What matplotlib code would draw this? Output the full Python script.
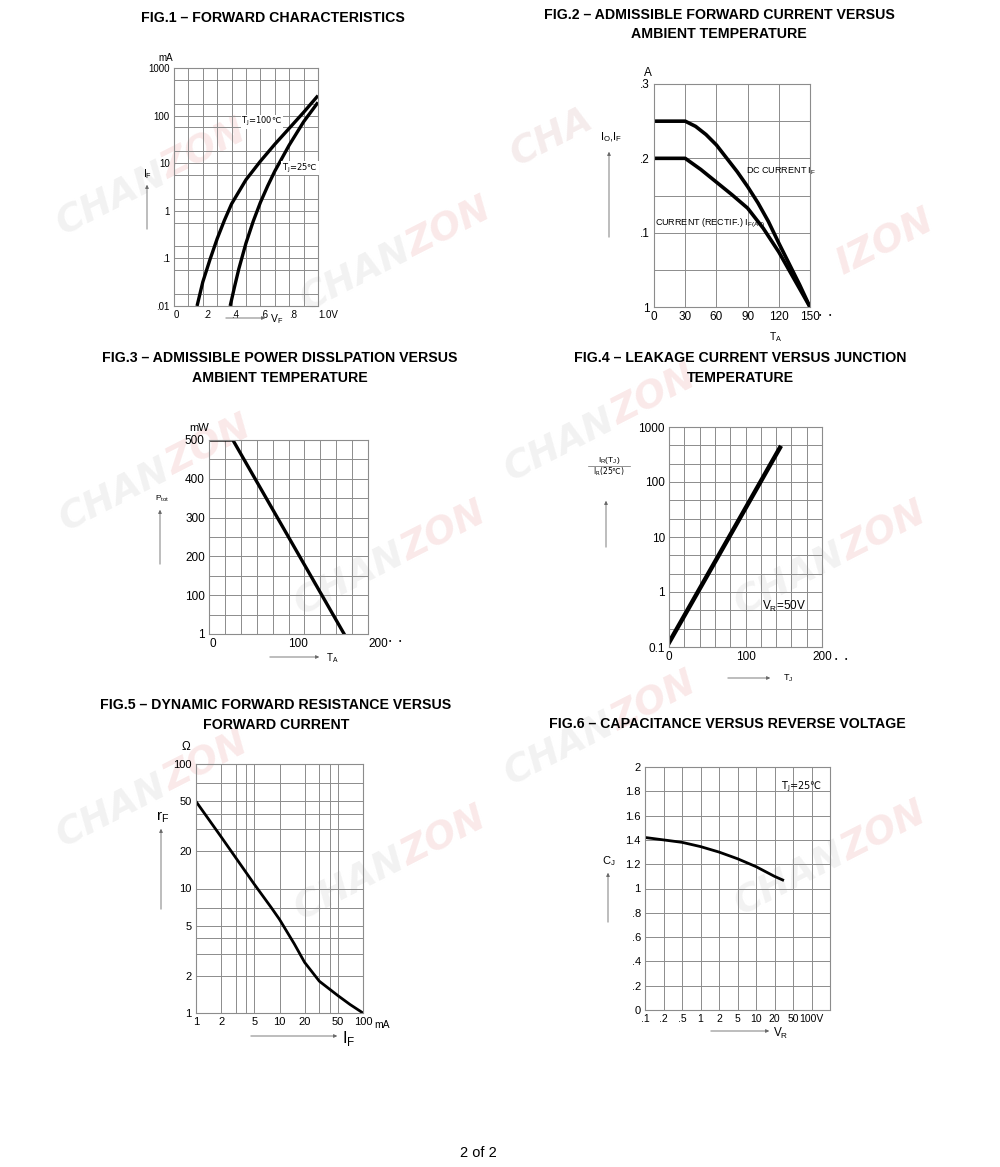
import numpy as np
import matplotlib
matplotlib.use('Agg')
import matplotlib.pyplot as plt
from matplotlib.ticker import FixedLocator, NullFormatter, FixedFormatter
from matplotlib.patches import FancyArrowPatch

plt.rcParams['font.family'] = ['Liberation Sans', 'DejaVu Sans']

W, H = 1000, 1167
GRID = '#8c8c8c'
TITLE_FONT = ['Liberation Sans Narrow', 'Liberation Sans', 'DejaVu Sans']

# ---- data ----
# fig.1 forward characteristics (V, mA)
vf_100 = [0.16, 0.2, 0.25, 0.3, 0.35, 0.4, 0.5, 0.6, 0.7, 0.8, 0.9, 1.0]
if_100 = [0.01, 0.032, 0.095, 0.26, 0.63, 1.4, 4.5, 11, 25, 54, 117, 263]
vf_25 = [0.39, 0.42, 0.45, 0.5, 0.55, 0.6, 0.65, 0.7, 0.8, 0.9, 1.0]
if_25 = [0.01, 0.025, 0.06, 0.21, 0.6, 1.5, 3.3, 6.8, 24, 74, 190]

# fig.2 admissible forward current (degC, A)
ta_dc = [0, 30, 40, 50, 60, 70, 80, 90, 100, 110, 120, 130, 140, 150]
i_dc = [0.25, 0.25, 0.243, 0.232, 0.218, 0.2, 0.182, 0.162, 0.14, 0.115, 0.086, 0.058, 0.03, 0.0]
ta_rect = [0, 30, 45, 60, 75, 90, 105, 120, 135, 150]
i_rect = [0.2, 0.2, 0.185, 0.168, 0.151, 0.133, 0.106, 0.074, 0.037, 0.0]

# fig.3 power dissipation (degC, mW)
ta_p = [0, 30, 170]
p_tot = [500, 500, 0]

# fig.4 leakage current ratio (degC, ratio)
tj_ir = [0, 145]
ir_ratio = [0.12, 420]

# fig.5 dynamic forward resistance (mA, ohm)
if_rf = [1, 2, 5, 8, 10, 15, 20, 30, 50, 70, 100]
rf = [50, 26, 10.8, 7.0, 5.65, 3.6, 2.55, 1.8, 1.38, 1.17, 1.0]

# fig.6 capacitance (V, pF)
vr_labels = ['.1', '.2', '.5', '1', '2', '5', '10', '20', '50', '100V']
vr_steps = [0.1, 0.2, 0.5, 1, 2, 5, 10, 20, 50, 100]
vr_cj = [0.1, 0.2, 0.5, 1, 2, 5, 10, 20, 30]
cj = [1.42, 1.40, 1.38, 1.345, 1.30, 1.245, 1.18, 1.10, 1.07]

fig = plt.figure(figsize=(W / 100, H / 100), dpi=100)


def axes_px(l, t, r, b):
    ax = fig.add_axes([l / W, 1 - b / H, (r - l) / W, (b - t) / H])
    ax.set_facecolor('none')
    return ax


def ftext(x, y, s, **kw):
    kw.setdefault('ha', 'center')
    kw.setdefault('va', 'center')
    return fig.text(x / W, 1 - y / H, s, **kw)


def arrow(x0, y0, x1, y1):
    fig.add_artist(FancyArrowPatch((x0 / W, 1 - y0 / H), (x1 / W, 1 - y1 / H),
                                   transform=fig.transFigure, arrowstyle='-|>',
                                   mutation_scale=5, lw=0.6, color='#666666'))


def style(ax, size=8.5):
    for s in ax.spines.values():
        s.set_color(GRID)
        s.set_linewidth(0.8)
    ax.tick_params(which='both', length=0, labelsize=size, pad=3)
    ax.grid(True, which='both', color=GRID, lw=0.7)
    ax.set_axisbelow(True)


def title(x, y, s):
    ftext(x, y, s, fontsize=10.2, fontweight='bold', family=TITLE_FONT)


# ---- watermarks ----
GRAY_WM, PINK_WM = '#f2f2f2', '#fae9e9'
marks = [((112, 200), 'CHAN', GRAY_WM), ((205, 150), 'ZON', PINK_WM),
         ((356, 276), 'CHAN', GRAY_WM), ((450, 228), 'ZON', PINK_WM),
         ((552, 138), 'CHA', '#f5ecec'), ((885, 243), 'IZON', PINK_WM),
         ((115, 496), 'CHAN', GRAY_WM), ((210, 446), 'ZON', PINK_WM),
         ((350, 580), 'CHAN', GRAY_WM), ((445, 532), 'ZON', PINK_WM),
         ((560, 446), 'CHAN', GRAY_WM), ((655, 396), 'ZON', PINK_WM),
         ((790, 580), 'CHAN', GRAY_WM), ((885, 532), 'ZON', PINK_WM),
         ((112, 812), 'CHAN', GRAY_WM), ((207, 762), 'ZON', PINK_WM),
         ((350, 885), 'CHAN', GRAY_WM), ((445, 837), 'ZON', PINK_WM),
         ((560, 750), 'CHAN', GRAY_WM), ((655, 702), 'ZON', PINK_WM),
         ((790, 880), 'CHAN', GRAY_WM), ((885, 832), 'ZON', PINK_WM)]
for (x, y), s, c in marks:
    ftext(x, y, s, fontsize=27, fontweight='bold', style='italic', color=c,
          rotation=27, family='DejaVu Sans', zorder=-5)

# ---- FIG.1 ----
title(273, 18, 'FIG.1 – FORWARD CHARACTERISTICS')
ax1 = axes_px(174, 68, 318, 306)
ax1.set_yscale('log')
ax1.plot(vf_100, if_100, color='black', lw=2.4, solid_capstyle='butt')
ax1.plot(vf_25, if_25, color='black', lw=2.4, solid_capstyle='butt')
ax1.set_xlim(0, 1.0)
ax1.set_ylim(0.01, 1000)
ax1.xaxis.set_major_locator(FixedLocator([0, 0.2, 0.4, 0.6, 0.8, 1.0]))
ax1.xaxis.set_major_formatter(FixedFormatter(['0', '.2', '.4', '.6', '.8', '1.0V']))
ax1.xaxis.set_minor_locator(FixedLocator([0.1, 0.3, 0.5, 0.7, 0.9]))
ax1.yaxis.set_major_locator(FixedLocator([0.01, 0.1, 1, 10, 100, 1000]))
ax1.yaxis.set_major_formatter(FixedFormatter(['.01', '.1', '1', '10', '100', '1000']))
minor1 = [10 ** (k + f) for k in range(-2, 3) for f in (0.25, 0.75)]
ax1.yaxis.set_minor_locator(FixedLocator(minor1))
ax1.yaxis.set_minor_formatter(NullFormatter())
style(ax1, 7)
for lab in ax1.get_xticklabels():
    lab.set_ha('left')
ftext(166, 58, 'mA', fontsize=7)
ax1.text(0.61, 74, r'T$_\mathregular{J}$=100℃', fontsize=6, ha='center', va='center',
         family='DejaVu Sans', bbox=dict(fc='white', ec='none', pad=0.5))
ax1.text(0.875, 7.9, r'T$_\mathregular{J}$=25℃', fontsize=6, ha='center', va='center',
         family='DejaVu Sans', bbox=dict(fc='white', ec='none', pad=0.5))
ftext(148, 174, r'I$_\mathregular{F}$', fontsize=7.5)
arrow(147, 232, 147, 182)
arrow(223, 318, 268, 318)
ftext(270, 319, r'V$_\mathregular{F}$', fontsize=7.5, ha='left')

# ---- FIG.2 ----
title(719, 15, 'FIG.2 – ADMISSIBLE FORWARD CURRENT VERSUS')
title(719, 34, 'AMBIENT TEMPERATURE')
ax2 = axes_px(654, 84, 810, 307)
ax2.plot(ta_dc, i_dc, color='black', lw=2.6)
ax2.plot(ta_rect, i_rect, color='black', lw=2.6)
ax2.set_xlim(0, 150)
ax2.set_ylim(0, 0.3)
ax2.xaxis.set_major_locator(FixedLocator([0, 30, 60, 90, 120, 150]))
ax2.yaxis.set_major_locator(FixedLocator([0, 0.1, 0.2, 0.3]))
ax2.yaxis.set_major_formatter(FixedFormatter(['1', '.1', '.2', '.3']))
ax2.yaxis.set_minor_locator(FixedLocator([0.05, 0.15, 0.25]))
style(ax2, 8.5)
ftext(820, 316, '•', fontsize=5)
ftext(830, 316, '•', fontsize=5)
ftext(648, 73, 'A', fontsize=8.5)
ax2.text(88, 0.182, r'DC CURRENT I$_\mathregular{F}$', fontsize=6.5, ha='left', va='center')
ax2.text(1, 0.112, r'CURRENT (RECTIF.) I$_\mathregular{F(AV)}$', fontsize=6.5, ha='left',
         va='center')
ftext(611, 137, r'I$_\mathregular{O}$,I$_\mathregular{F}$', fontsize=8)
arrow(609, 240, 609, 149)
ftext(776, 337, r'T$_\mathregular{A}$', fontsize=7.5)

# ---- FIG.3 ----
title(280, 358, 'FIG.3 – ADMISSIBLE POWER DISSLPATION VERSUS')
title(280, 378, 'AMBIENT TEMPERATURE')
ax3 = axes_px(209, 440, 368, 634)
ax3.plot(ta_p, p_tot, color='black', lw=2.4)
ax3.set_xlim(0, 200)
ax3.set_ylim(0, 500)
ax3.xaxis.set_major_locator(FixedLocator([0, 100, 200]))
ax3.xaxis.set_minor_locator(FixedLocator(np.arange(20, 200, 20)))
ax3.yaxis.set_major_locator(FixedLocator([0, 100, 200, 300, 400, 500]))
ax3.yaxis.set_major_formatter(FixedFormatter(['1', '100', '200', '300', '400', '500']))
ax3.yaxis.set_minor_locator(FixedLocator(np.arange(50, 500, 100)))
style(ax3, 8.5)
for lab in ax3.get_xticklabels():
    lab.set_ha('left')
ftext(390, 642, '•', fontsize=5)
ftext(400, 642, '•', fontsize=5)
ftext(199, 428, 'mW', fontsize=8)
ftext(162, 499, r'P$_\mathregular{tot}$', fontsize=6)
arrow(160, 567, 160, 507)
arrow(267, 657, 322, 657)
ftext(326, 658, r'T$_\mathregular{A}$', fontsize=7, ha='left')

# ---- FIG.4 ----
title(740, 358, 'FIG.4 – LEAKAGE CURRENT VERSUS JUNCTION')
title(740, 378, 'TEMPERATURE')
ax4 = axes_px(669, 427, 822, 647)
ax4.set_yscale('log')
ax4.plot(tj_ir, ir_ratio, color='black', lw=3.2)
ax4.set_xlim(0, 200)
ax4.set_ylim(0.1, 1000)
ax4.xaxis.set_major_locator(FixedLocator([0, 100, 200]))
ax4.xaxis.set_minor_locator(FixedLocator(np.arange(20, 200, 20)))
ax4.yaxis.set_major_locator(FixedLocator([0.1, 1, 10, 100, 1000]))
ax4.yaxis.set_major_formatter(FixedFormatter(['0.1', '1', '10', '100', '1000']))
minor4 = [10 ** (k + f) for k in range(-1, 3) for f in (1 / 3, 2 / 3)]
ax4.yaxis.set_minor_locator(FixedLocator(minor4))
ax4.yaxis.set_minor_formatter(NullFormatter())
style(ax4, 8.5)
ftext(836, 659, '•', fontsize=5)
ftext(846, 659, '•', fontsize=5)
ax4.text(150, 0.55, r'V$_\mathregular{R}$=50V', fontsize=8.5, ha='center', va='center')
ftext(609, 460, r'I$_\mathregular{R}$(T$_\mathregular{J}$)', fontsize=6)
ftext(609, 472, r'I$_\mathregular{R}$(25℃)', fontsize=5.5, family='DejaVu Sans')
fig.add_artist(plt.Line2D([588 / W, 630 / W], [1 - 466 / H, 1 - 466 / H], lw=0.5,
                          color='#666666'))
arrow(606, 550, 606, 498)
arrow(725, 678, 773, 678)
ftext(783, 678, r'T$_\mathregular{J}$', fontsize=6.5, ha='left')

# ---- FIG.5 ----
title(276, 705, 'FIG.5 – DYNAMIC FORWARD RESISTANCE VERSUS')
title(276, 725, 'FORWARD CURRENT')
ax5 = axes_px(196, 764, 363, 1013)
ax5.set_xscale('log')
ax5.set_yscale('log')
ax5.plot(if_rf, rf, color='black', lw=2.0)
ax5.set_xlim(1, 100)
ax5.set_ylim(1, 100)
ax5.xaxis.set_major_locator(FixedLocator([1, 2, 5, 10, 20, 50, 100]))
ax5.xaxis.set_major_formatter(FixedFormatter(['1', '2', '5', '10', '20', '50', '100']))
ax5.xaxis.set_minor_locator(FixedLocator([3, 4, 30, 40]))
ax5.xaxis.set_minor_formatter(NullFormatter())
ax5.yaxis.set_major_locator(FixedLocator([1, 2, 5, 10, 20, 50, 100]))
ax5.yaxis.set_major_formatter(FixedFormatter(['1', '2', '5', '10', '20', '50', '100']))
ax5.yaxis.set_minor_locator(FixedLocator([3, 4, 7, 30, 40, 70]))
ax5.yaxis.set_minor_formatter(NullFormatter())
style(ax5, 8)
ftext(186, 747, 'Ω', fontsize=8.5)
ftext(382, 1025, 'mA', fontsize=7.5)
ftext(163, 817, r'r$_\mathregular{F}$', fontsize=11)
arrow(161, 912, 161, 826)
arrow(248, 1036, 340, 1036)
ftext(342, 1039, r'I$_\mathregular{F}$', fontsize=12, ha='left')

# ---- FIG.6 ----
title(727, 724, 'FIG.6 – CAPACITANCE VERSUS REVERSE VOLTAGE')
ax6 = axes_px(645, 767, 830, 1010)
pos_cj = np.interp(np.log10(vr_cj), np.log10(vr_steps), np.arange(len(vr_steps)))
ax6.plot(pos_cj, cj, color='black', lw=2.0)
ax6.set_xlim(0, 10)
ax6.set_ylim(0, 2)
ax6.xaxis.set_major_locator(FixedLocator(np.arange(len(vr_labels))))
ax6.xaxis.set_major_formatter(FixedFormatter(vr_labels))
ax6.xaxis.set_minor_locator(FixedLocator([10]))
ax6.yaxis.set_major_locator(FixedLocator(np.arange(0, 2.01, 0.2)))
ax6.yaxis.set_major_formatter(FixedFormatter(['0', '.2', '.4', '.6', '.8', '1', '1.2',
                                              '1.4', '1.6', '1.8', '2']))
style(ax6, 8)
ax6.tick_params(axis='x', labelsize=7.5)
ax6.text(8.45, 1.84, r'T$_\mathregular{J}$=25℃', fontsize=7, ha='center', va='center',
         family='DejaVu Sans')
ftext(609, 861, r'C$_\mathregular{J}$', fontsize=8)
arrow(608, 925, 608, 870)
arrow(708, 1031, 772, 1031)
ftext(773, 1033, r'V$_\mathregular{R}$', fontsize=8.5, ha='left')

ftext(478, 1153, '2 of 2', fontsize=10.5)

fig.savefig('out.png', dpi=100, facecolor='white')
